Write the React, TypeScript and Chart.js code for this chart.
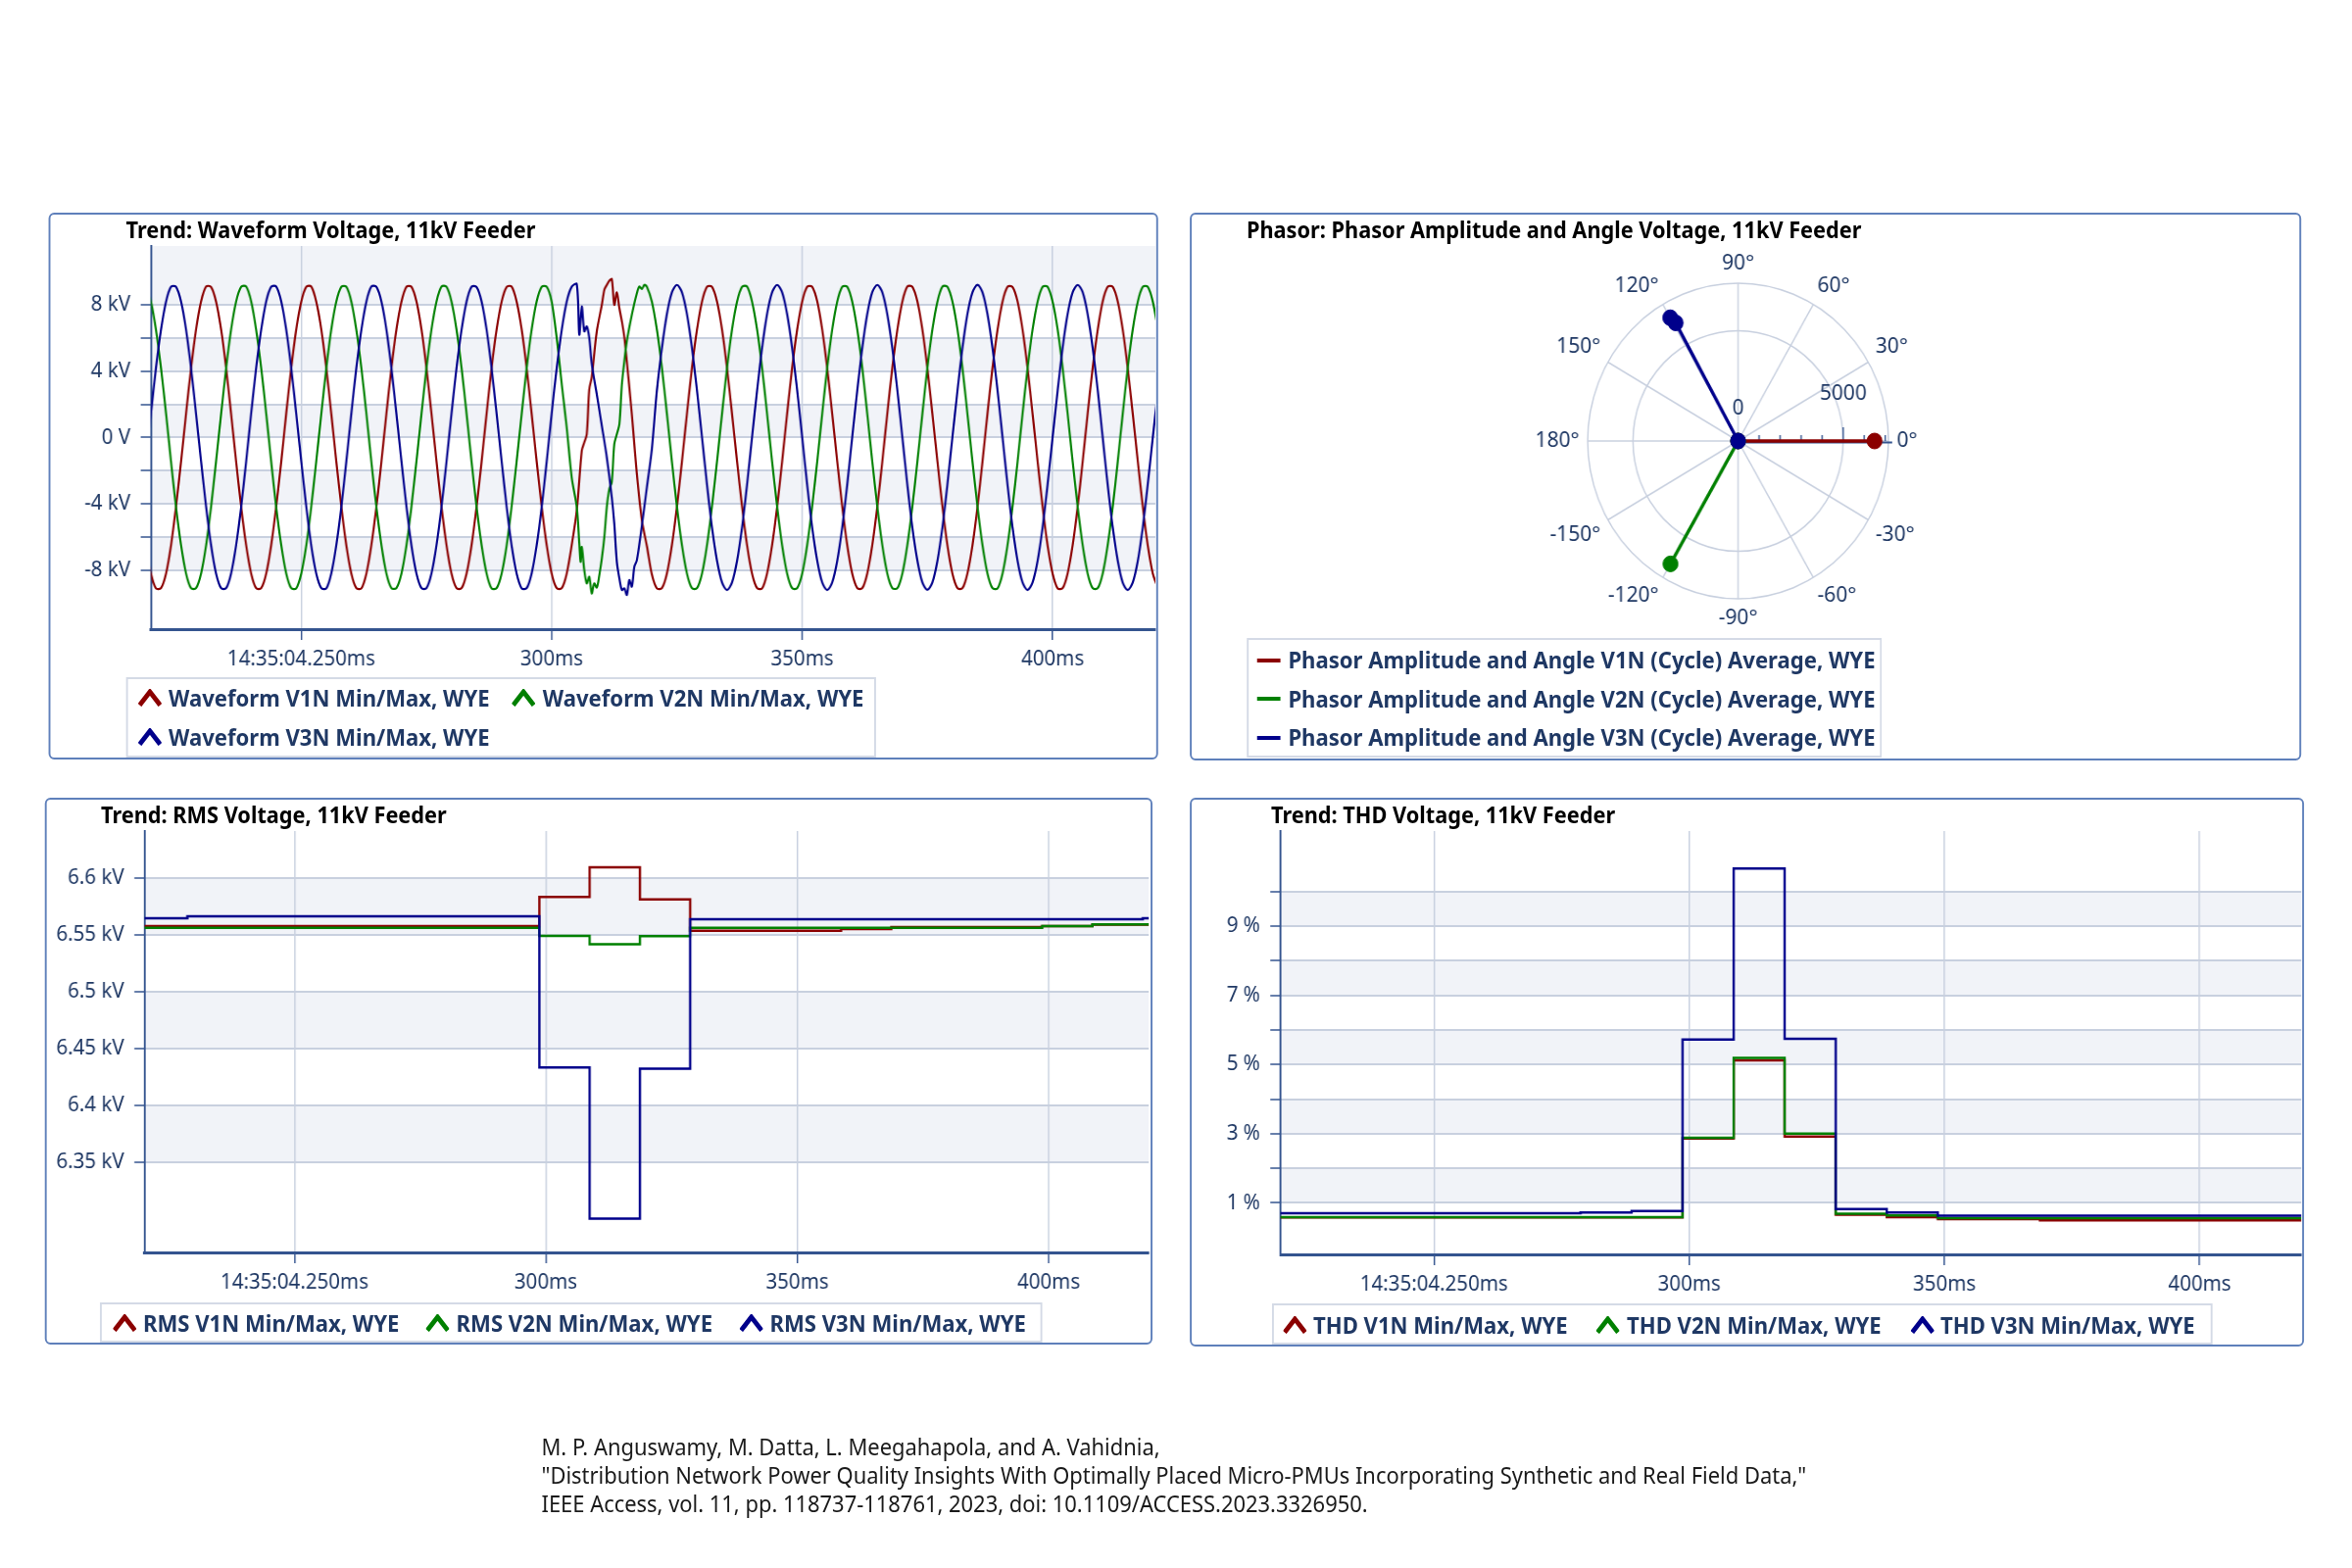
import React, { useEffect, useRef } from 'react';
import { Chart, registerables } from 'chart.js';

Chart.register(...registerables);

// The reference is horizontally compressed; we lay out in uncompressed units and squeeze.
const K = 0.953;
const FONT = '"Noto Sans", "Open Sans", sans-serif';
const TEXT = '#1f3864';
const AXIS = '#34548f';
const GRID = '#c8d0df';
const BAND = '#f1f3f8';
const PANEL_BORDER = '#5f80bb';
const LEGEND_BORDER = '#d4dae6';
const TITLE_SIZE = 22.8;
const LEGEND_SIZE = 23.2;
const TICK_SIZE = 21.5;
const CITE_SIZE = 23;

Chart.defaults.font.family = FONT;

// ---------------- series ----------------
const seriesNames = ['V1N', 'V2N', 'V3N'];
const seriesColors = ['#8b0000', '#008000', '#00008b'];

// ---------------- waveform (kV), one sample per ms from 219 ms ----------------
const waveStartMs = 219;
const waveStepMs = 1;
const waveV1 = [
  -6.50, -8.21, -9.10, -9.08, -8.20, -6.51, -4.18, -1.45, 1.44, 4.17, 6.50, 8.21, 9.10, 9.08, 8.20, 6.50, 4.18, 1.43, -1.44, -4.19,
  -6.50, -8.20, -9.09, -9.09, -8.21, -6.50, -4.18, -1.44, 1.45, 4.18, 6.51, 8.20, 9.09, 9.10, 8.19, 6.50, 4.17, 1.44, -1.44, -4.18,
  -6.51, -8.20, -9.08, -9.10, -8.20, -6.50, -4.19, -1.44, 1.44, 4.18, 6.50, 8.19, 9.09, 9.09, 8.21, 6.50, 4.18, 1.45, -1.43, -4.18,
  -6.50, -8.21, -9.09, -9.09, -8.20, -6.51, -4.18, -1.44, 1.44, 4.19, 6.50, 8.20, 9.08, 9.10, 8.20, 6.50, 4.18, 1.44, -1.44, -4.18,
  -6.50, -8.20, -9.09, -9.09, -8.20, -6.50, -4.40, -0.80, 0.20, 3.64, 6.40, 8.00, 9.20, 9.55, 8.75, 7.00, 4.60, 1.40, -2.20, -5.00,
  -6.55, -8.25, -9.10, -9.08, -8.20, -6.50, -4.18, -1.44, 1.44, 4.18, 6.50, 8.20, 9.09, 9.09, 8.20, 6.50, 4.18, 1.44, -1.44, -4.18,
  -6.50, -8.20, -9.09, -9.10, -8.20, -6.50, -4.18, -1.44, 1.44, 4.18, 6.51, 8.20, 9.09, 9.09, 8.21, 6.50, 4.18, 1.44, -1.44, -4.18,
  -6.50, -8.21, -9.09, -9.09, -8.20, -6.50, -4.17, -1.44, 1.44, 4.18, 6.50, 8.20, 9.10, 9.09, 8.20, 6.50, 4.18, 1.44, -1.45, -4.18,
  -6.50, -8.20, -9.09, -9.09, -8.20, -6.51, -4.18, -1.44, 1.44, 4.18, 6.50, 8.20, 9.09, 9.08, 8.20, 6.50, 4.18, 1.44, -1.44, -4.18,
  -6.50, -8.20, -9.10, -9.09, -8.20, -6.50, -4.18, -1.44, 1.44, 4.18, 6.50, 8.21, 9.09, 9.09, 8.20, 6.50, 4.19, 1.44, -1.44, -4.18,
  -6.50, -8.20, -9.09,
];
const waveV2 = [
  9.09, 8.20, 6.50, 4.18, 1.44, -1.44, -4.18, -6.50, -8.20, -9.09, -9.09, -8.20, -6.50, -4.18, -1.44, 1.44, 4.18, 6.50, 8.20, 9.09,
  9.10, 8.21, 6.50, 4.18, 1.44, -1.44, -4.19, -6.50, -8.20, -9.09, -9.10, -8.20, -6.50, -4.18, -1.44, 1.44, 4.18, 6.51, 8.20, 9.09,
  9.09, 8.20, 6.50, 4.17, 1.44, -1.45, -4.18, -6.50, -8.21, -9.09, -9.08, -8.20, -6.50, -4.18, -1.44, 1.45, 4.18, 6.50, 8.20, 9.10,
  9.09, 8.20, 6.51, 4.18, 1.44, -1.44, -4.18, -6.50, -8.20, -9.10, -9.09, -8.20, -6.51, -4.18, -1.44, 1.44, 4.18, 6.50, 8.21, 9.09,
  9.09, 8.20, 6.00, 3.20, 0.60, -2.40, -4.20, -6.60, -8.80, -9.40, -9.05, -7.30, -4.20, -2.70, 0.20, 3.20, 5.80, 7.40, 8.70, 8.95,
  9.09, 8.20, 6.50, 4.18, 1.44, -1.44, -4.18, -6.50, -8.20, -9.09, -9.09, -8.20, -6.50, -4.18, -1.44, 1.44, 4.18, 6.50, 8.20, 9.09,
  9.10, 8.20, 6.50, 4.18, 1.44, -1.44, -4.18, -6.51, -8.20, -9.09, -9.09, -8.21, -6.50, -4.18, -1.44, 1.44, 4.18, 6.50, 8.20, 9.09,
  9.09, 8.20, 6.50, 4.19, 1.44, -1.44, -4.18, -6.50, -8.20, -9.08, -9.09, -8.20, -6.50, -4.18, -1.43, 1.44, 4.18, 6.50, 8.20, 9.10,
  9.09, 8.21, 6.50, 4.18, 1.44, -1.44, -4.18, -6.50, -8.20, -9.09, -9.10, -8.20, -6.50, -4.18, -1.44, 1.44, 4.17, 6.50, 8.20, 9.09,
  9.09, 8.20, 6.50, 4.18, 1.45, -1.44, -4.18, -6.50, -8.20, -9.09, -9.09, -8.20, -6.50, -4.18, -1.44, 1.44, 4.18, 6.51, 8.20, 9.09,
  9.09, 8.20, 6.50,
];
const waveV3 = [
  -1.44, 1.44, 4.18, 6.50, 8.20, 9.09, 9.09, 8.20, 6.50, 4.18, 1.44, -1.44, -4.18, -6.50, -8.20, -9.09, -9.09, -8.20, -6.50, -4.18,
  -1.44, 1.45, 4.18, 6.50, 8.21, 9.09, 9.10, 8.20, 6.50, 4.18, 1.44, -1.44, -4.18, -6.51, -8.20, -9.09, -9.10, -8.20, -6.50, -4.18,
  -1.43, 1.44, 4.18, 6.50, 8.20, 9.10, 9.09, 8.20, 6.51, 4.18, 1.44, -1.44, -4.17, -6.50, -8.20, -9.09, -9.09, -8.21, -6.50, -4.18,
  -1.44, 1.44, 4.19, 6.50, 8.20, 9.09, 9.08, 8.20, 6.50, 4.18, 1.45, -1.44, -4.18, -6.50, -8.20, -9.10, -9.09, -8.20, -6.50, -4.19,
  -1.44, 1.44, 4.18, 6.50, 8.20, 9.09, 9.25, 7.90, 6.70, 4.45, 2.60, 0.70, -1.20, -3.60, -7.50, -9.20, -9.50, -9.00, -7.40, -5.30,
  -3.00, -0.70, 2.84, 5.41, 7.44, 8.75, 9.20, 8.75, 7.44, 5.41, 2.84, 0.00, -2.84, -5.41, -7.44, -8.75, -9.20, -8.75, -7.44, -5.41,
  -2.84, 0.00, 2.84, 5.41, 7.44, 8.75, 9.20, 8.75, 7.44, 5.41, 2.84, 0.00, -2.84, -5.41, -7.44, -8.75, -9.20, -8.75, -7.44, -5.41,
  -2.84, 0.01, 2.85, 5.41, 7.44, 8.76, 9.20, 8.75, 7.43, 5.41, 2.84, 0.00, -2.84, -5.42, -7.44, -8.75, -9.19, -8.75, -7.44, -5.41,
  -2.84, 0.00, 2.84, 5.40, 7.44, 8.75, 9.21, 8.75, 7.44, 5.41, 2.83, 0.00, -2.84, -5.41, -7.45, -8.75, -9.20, -8.74, -7.44, -5.41,
  -2.85, 0.00, 2.84, 5.41, 7.44, 8.75, 9.20, 8.76, 7.44, 5.41, 2.84, -0.01, -2.84, -5.41, -7.44, -8.76, -9.20, -8.75, -7.44, -5.40,
  -2.84, 0.00, 2.84,
];
// extra samples (ms, kV) read inside the disturbance
const waveV1Extra = [[306.5, -0.30], [307.5, 2.90], [310.5, 8.90], [311.5, 9.45], [312.5, 8.00], [313.5, 7.80], [314.5, 6.05]];
const waveV2Extra = [[305.5, -6.40], [305.75, -7.50], [306.5, -8.00], [307.5, -8.40], [308.5, -8.80], [309.5, -8.30], [310.5, -6.00],
  [311.5, -3.10], [312.5, -0.40], [313.5, 0.80], [314.5, 4.60], [317.5, 9.10], [318.5, 9.20]];
const waveV3Extra = [[305.5, 6.20], [306.5, 6.40], [307.5, 6.00], [312.5, -5.20], [313.5, -8.50], [314.5, -9.10], [315.5, -8.60], [316.5, -7.80]];
const waveYTicks = [-8, -6, -4, -2, 0, 2, 4, 6, 8];
const waveYTickLabels = ['-8 kV', '', '-4 kV', '', '0 V', '', '4 kV', '', '8 kV'];

const timeTicks = [250, 300, 350, 400];
const timeTickLabels = ['14:35:04.250ms', '300ms', '350ms', '400ms'];

// ---------------- half-cycle RMS / THD steps ----------------
const stepTimesMs = [218.7, 228.7, 238.7, 248.7, 258.7, 268.7, 278.7, 288.7, 298.7, 308.7, 318.7,
  328.7, 338.7, 348.7, 358.7, 368.7, 378.7, 388.7, 398.7, 408.7, 418.7, 420.5];
const rmsV1 = [6.5578, 6.5578, 6.5578, 6.5578, 6.5578, 6.5578, 6.5578, 6.5578, 6.5834, 6.6095, 6.5812,
  6.5538, 6.5538, 6.5538, 6.5552, 6.5569, 6.5569, 6.5569, 6.5578, 6.5590, 6.5590, 6.5590];
const rmsV2 = [6.5562, 6.5562, 6.5562, 6.5562, 6.5562, 6.5562, 6.5562, 6.5562, 6.5491, 6.5419, 6.5490,
  6.5562, 6.5562, 6.5562, 6.5562, 6.5562, 6.5562, 6.5562, 6.5578, 6.5594, 6.5594, 6.5594];
const rmsV3 = [6.5647, 6.5663, 6.5663, 6.5663, 6.5663, 6.5663, 6.5663, 6.5663, 6.4335, 6.3007, 6.4325,
  6.5638, 6.5638, 6.5638, 6.5638, 6.5638, 6.5638, 6.5638, 6.5638, 6.5638, 6.5647, 6.5647];
const rmsYTicks = [6.35, 6.4, 6.45, 6.5, 6.55, 6.6];
const rmsYTickLabels = ['6.35 kV', '6.4 kV', '6.45 kV', '6.5 kV', '6.55 kV', '6.6 kV'];

const thdV1 = [0.58, 0.58, 0.58, 0.58, 0.58, 0.58, 0.58, 0.58, 2.86, 5.12, 2.92,
  0.66, 0.59, 0.53, 0.53, 0.50, 0.50, 0.50, 0.50, 0.50, 0.50, 0.50];
const thdV2 = [0.59, 0.59, 0.59, 0.59, 0.59, 0.59, 0.59, 0.59, 2.88, 5.19, 3.00,
  0.69, 0.64, 0.56, 0.56, 0.56, 0.56, 0.56, 0.56, 0.56, 0.56, 0.56];
const thdV3 = [0.70, 0.70, 0.70, 0.70, 0.70, 0.70, 0.72, 0.765, 5.72, 10.66, 5.74,
  0.82, 0.72, 0.63, 0.63, 0.63, 0.63, 0.63, 0.63, 0.63, 0.63, 0.63];
const thdYTicks = [1, 2, 3, 4, 5, 6, 7, 8, 9, 10];
const thdYTickLabels = ['1 %', '', '3 %', '', '5 %', '', '7 %', '', '9 %', ''];

// ---------------- phasor ----------------
const phasorV1Angles = [0];
const phasorV1Mags = [6490];
const phasorV2Angles = [-120];
const phasorV2Mags = [6430];
const phasorV3Angles = [120, 119];
const phasorV3Mags = [6450, 6120];
const phasorAngleTicks = [90, 60, 30, 0, -30, -60, -90, -120, -150, 180, 150, 120];
const phasorRadialGrid = [0, 5000, 7150];
const phasorRadialMax = 7150;
const phasorRadialLabelValues = [0, 5000];
const phasorRadialLabels = ['0', '5000'];
const phasorRadialMinor = [0, 1000, 2000, 3000, 4000, 6000, 7000];

const citationLines = [
  'M. P. Anguswamy, M. Datta, L. Meegahapola, and A. Vahidnia,',
  '"Distribution Network Power Quality Insights With Optimally Placed Micro-PMUs Incorporating Synthetic and Real Field Data,"',
  'IEEE Access, vol. 11, pp. 118737-118761, 2023, doi: 10.1109/ACCESS.2023.3326950.',
];

// ---------------- helpers ----------------
function buildWave(values: number[], extra: number[][]) {
  const pts = values.map((v, i) => ({ x: waveStartMs + i * waveStepMs, y: v }));
  extra.forEach(([x, y]) => pts.push({ x, y }));
  return pts.sort((a, b) => a.x - b.x);
}
function buildSteps(values: number[]) {
  return values.map((v, i) => ({ x: stepTimesMs[i], y: v }));
}

type Rect = { l: number; t: number; r: number; b: number };
const PAD_TOP = 32;
const PAD_RIGHT = 4;
const X_AXIS_H = 50;

type TrendProps = {
  plot: Rect;
  canvasLeft: number;
  series: { label: string; pts: { x: number; y: number }[]; color: string }[];
  xMin: number; xMax: number;
  yMin: number; yMax: number;
  yTicks: number[]; yTickLabels: string[];
  stepped?: boolean; tension?: number; lineWidth: number;
};

function TrendChart(p: TrendProps) {
  const ref = useRef<HTMLCanvasElement>(null);
  const left = p.canvasLeft / K;
  const top = p.plot.t - PAD_TOP;
  const width = Math.round((p.plot.r - p.canvasLeft) / K + PAD_RIGHT);
  const height = Math.round(p.plot.b + X_AXIS_H - top);
  useEffect(() => {
    const yAxisW = (p.plot.l - p.canvasLeft) / K;
    const bands = {
      id: 'bands',
      beforeDraw(chart: any) {
        const { ctx, chartArea: a } = chart;
        const y = chart.scales.y;
        ctx.save();
        ctx.fillStyle = BAND;
        for (let i = 0; i < p.yTicks.length; i += 2) {
          const lo = p.yTicks[i];
          const hi = i + 1 < p.yTicks.length ? p.yTicks[i + 1] : p.yMax;
          const t = y.getPixelForValue(hi);
          const b = y.getPixelForValue(lo);
          ctx.fillRect(a.left, t, a.right - a.left, b - t);
        }
        ctx.restore();
      },
    };
    const chart = new Chart(ref.current as HTMLCanvasElement, {
      type: 'line',
      data: {
        datasets: p.series.map((s, i) => ({
          label: s.label,
          data: s.pts,
          borderColor: s.color,
          backgroundColor: s.color,
          borderWidth: p.lineWidth,
          pointRadius: 0,
          pointHoverRadius: 0,
          fill: false,
          stepped: p.stepped ? 'before' : false,
          tension: p.tension ?? 0,
          order: p.series.length - 1 - i,
        })),
      },
      options: {
        animation: false,
        responsive: false,
        maintainAspectRatio: false,
        devicePixelRatio: 1,
        events: [],
        layout: { padding: { left: 0, top: PAD_TOP, right: PAD_RIGHT, bottom: 0 } },
        plugins: { legend: { display: false }, tooltip: { enabled: false }, title: { display: false } },
        scales: {
          x: {
            type: 'linear', min: p.xMin, max: p.xMax,
            afterBuildTicks: (s: any) => { s.ticks = timeTicks.map((v) => ({ value: v })); },
            afterFit: (s: any) => { s.height = X_AXIS_H; },
            ticks: {
              autoSkip: false, maxRotation: 0, minRotation: 0, padding: 7, color: TEXT,
              font: { family: FONT, size: TICK_SIZE },
              callback: (_v: any, i: number) => timeTickLabels[i],
            },
            grid: { color: GRID, lineWidth: 1.5, tickLength: 11, tickColor: AXIS, tickWidth: 1.5 },
            border: { color: AXIS, width: 3 },
          },
          y: {
            type: 'linear', min: p.yMin, max: p.yMax,
            afterBuildTicks: (s: any) => { s.ticks = p.yTicks.map((v) => ({ value: v })); },
            afterFit: (s: any) => { s.width = yAxisW; },
            ticks: {
              autoSkip: false, padding: 11, color: TEXT,
              font: { family: FONT, size: TICK_SIZE },
              callback: (_v: any, i: number) => p.yTickLabels[i],
            },
            grid: { color: GRID, lineWidth: 2, tickLength: 11, tickColor: AXIS, tickWidth: 1.5 },
            border: { color: AXIS, width: 2 },
          },
        },
      } as any,
      plugins: [bands],
    });
    return () => chart.destroy();
  }, []);
  return (
    <canvas ref={ref} width={width} height={height}
      style={{ position: 'absolute', left, top, width, height }} />
  );
}

// ---------------- phasor ----------------
const PHASOR_N = 360;
const PHASOR_R = 161;
const angleToIndex = (deg: number) => (((90 - deg) % 360) + 360) % 360;
function buildPhasor(angles: number[], mags: number[]) {
  const d: (number | null)[] = new Array(PHASOR_N).fill(null);
  angles.forEach((a, k) => { d[angleToIndex(a)] = mags[k]; });
  d[(angleToIndex(angles[angles.length - 1]) + 1) % PHASOR_N] = 0; // origin
  return d;
}

function PhasorChart({ cx, cy }: { cx: number; cy: number }) {
  const ref = useRef<HTMLCanvasElement>(null);
  const size = 440;
  useEffect(() => {
    const labels = Array.from({ length: PHASOR_N }, (_, i) => {
      let a = 90 - i;
      if (a <= -180) a += 360;
      return `${a}°`;
    });
    const mk = (angles: number[], mags: number[], i: number) => ({
      label: seriesNames[i],
      data: buildPhasor(angles, mags),
      borderColor: seriesColors[i],
      backgroundColor: seriesColors[i],
      pointBackgroundColor: seriesColors[i],
      pointBorderColor: seriesColors[i],
      borderWidth: 3.5,
      pointRadius: 8,
      pointBorderWidth: 1,
      fill: false,
      tension: 0,
      order: 2 - i,
    });
    const i0 = angleToIndex(0);
    const decor = {
      id: 'phasorDecor',
      beforeDatasetsDraw(chart: any) {
        const s = chart.scales.r;
        const ctx = chart.ctx;
        const o = s.getPointPositionForValue(i0, 0);
        const e = s.getPointPositionForValue(i0, phasorRadialMax);
        ctx.save();
        ctx.strokeStyle = AXIS;
        ctx.lineWidth = 2;
        ctx.beginPath();
        ctx.moveTo(o.x, o.y + 1.5);
        ctx.lineTo(e.x + 4, e.y + 1.5);
        ctx.stroke();
        ctx.lineWidth = 1.5;
        phasorRadialMinor.forEach((v) => {
          const q = s.getPointPositionForValue(i0, v);
          ctx.beginPath(); ctx.moveTo(q.x, q.y); ctx.lineTo(q.x, q.y - 6); ctx.stroke();
        });
        const m = s.getPointPositionForValue(i0, phasorRadialLabelValues[1]);
        ctx.beginPath(); ctx.moveTo(m.x, m.y); ctx.lineTo(m.x, m.y - 14); ctx.stroke();
        ctx.restore();
      },
      afterDraw(chart: any) {
        const s = chart.scales.r;
        const ctx = chart.ctx;
        ctx.save();
        ctx.fillStyle = TEXT;
        ctx.font = `22px ${FONT}`;
        phasorAngleTicks.forEach((a) => {
          const idx = angleToIndex(a);
          const p = s.getPointPosition(idx, s.drawingArea + 9);
          ctx.textAlign = idx === 0 || idx === 180 ? 'center' : idx < 180 ? 'left' : 'right';
          ctx.textBaseline = idx === 90 || idx === 270 ? 'middle' : idx > 270 || idx < 90 ? 'bottom' : 'top';
          ctx.fillText(`${a}°`, p.x, p.y);
        });
        ctx.textAlign = 'center';
        ctx.textBaseline = 'middle';
        const lift = [33, 48];
        phasorRadialLabelValues.forEach((v, k) => {
          const q = s.getPointPositionForValue(i0, v);
          ctx.fillText(phasorRadialLabels[k], q.x, q.y - lift[k]);
        });
        ctx.restore();
      },
    };
    const chart = new Chart(ref.current as HTMLCanvasElement, {
      type: 'radar',
      data: {
        labels,
        datasets: [
          mk(phasorV1Angles, phasorV1Mags, 0),
          mk(phasorV2Angles, phasorV2Mags, 1),
          mk(phasorV3Angles, phasorV3Mags, 2),
        ],
      },
      options: {
        animation: false,
        responsive: false,
        maintainAspectRatio: false,
        devicePixelRatio: 1,
        events: [],
        layout: { padding: (size - 2 * PHASOR_R) / 2 },
        plugins: { legend: { display: false }, tooltip: { enabled: false } },
        scales: {
          r: {
            min: 0,
            max: phasorRadialMax,
            afterBuildTicks: (s: any) => { s.ticks = phasorRadialGrid.map((v) => ({ value: v })); },
            ticks: { display: false },
            pointLabels: { display: false },
            grid: { circular: true, color: GRID, lineWidth: 1.5 },
            angleLines: {
              display: true,
              color: GRID,
              lineWidth: (c: any) => (c.index % 30 === 0 ? 1.5 : 0),
            },
          },
        },
      } as any,
      plugins: [decor],
    });
    return () => chart.destroy();
  }, []);
  return (
    <canvas ref={ref} width={size} height={size}
      style={{ position: 'absolute', left: cx / K - size / 2, top: cy - size / 2, width: size, height: size }} />
  );
}

// ---------------- html pieces ----------------
function Panel({ r }: { r: Rect }) {
  return (
    <div style={{
      position: 'absolute', left: r.l / K, top: r.t, width: (r.r - r.l) / K, height: r.b - r.t,
      border: `2px solid ${PANEL_BORDER}`, borderRadius: 6, boxSizing: 'border-box',
    }} />
  );
}

function Title({ x, y, text }: { x: number; y: number; text: string }) {
  return (
    <div style={{
      position: 'absolute', left: x / K, top: y - 15.7, lineHeight: '30px', fontSize: TITLE_SIZE,
      fontWeight: 700, color: '#000', whiteSpace: 'nowrap',
    }}>{text}</div>
  );
}

type LegendItem = { sx: number; tx: number; y: number; text: string; color: string };
function Legend({ box, items, kind }: { box: Rect; items: LegendItem[]; kind: 'chevron' | 'line' }) {
  return (
    <>
      <div style={{
        position: 'absolute', left: box.l / K, top: box.t, width: (box.r - box.l) / K, height: box.b - box.t,
        border: `2px solid ${LEGEND_BORDER}`, boxSizing: 'border-box',
      }} />
      {items.map((it, k) => (
        <React.Fragment key={k}>
          {kind === 'chevron' ? (
            <svg width={25} height={18} viewBox="0 0 25 18"
              style={{ position: 'absolute', left: it.sx / K, top: it.y - 10 }}>
              <polyline points="1.5,16.5 12.5,3 23.5,16.5" fill="none" stroke={it.color}
                strokeWidth={5} strokeLinejoin="miter" />
            </svg>
          ) : (
            <div style={{ position: 'absolute', left: it.sx / K, top: it.y - 2, width: 25, height: 4, background: it.color }} />
          )}
          <div style={{
            position: 'absolute', left: it.tx / K, top: it.y - 15.7, lineHeight: '30px',
            fontSize: LEGEND_SIZE, fontWeight: 700, color: TEXT, whiteSpace: 'nowrap',
          }}>{it.text}</div>
        </React.Fragment>
      ))}
    </>
  );
}

export default function App() {
  const waveSeries = [waveV1, waveV2, waveV3].map((v, i) => ({
    label: seriesNames[i], color: seriesColors[i],
    pts: buildWave(v, [waveV1Extra, waveV2Extra, waveV3Extra][i]),
  }));
  const rmsSeries = [rmsV1, rmsV2, rmsV3].map((v, i) => ({ label: seriesNames[i], color: seriesColors[i], pts: buildSteps(v) }));
  const thdSeries = [thdV1, thdV2, thdV3].map((v, i) => ({ label: seriesNames[i], color: seriesColors[i], pts: buildSteps(v) }));

  const wfLegend: LegendItem[] = [
    { sx: 140.7, tx: 172, y: 713 },
    { sx: 522.6, tx: 553.8, y: 713 },
    { sx: 140.7, tx: 172, y: 752.5 },
  ].map((p, i) => ({ ...p, text: `Waveform ${seriesNames[i]} Min/Max, WYE`, color: seriesColors[i] }));
  const phLegend: LegendItem[] = [674, 713.4, 752.6].map((y, i) => ({
    sx: 1283, tx: 1314.4, y, text: `Phasor Amplitude and Angle ${seriesNames[i]} (Cycle) Average, WYE`, color: seriesColors[i],
  }));
  const rmsLegend: LegendItem[] = [[115.4, 146], [435, 465.6], [754.5, 785.5]].map(([sx, tx], i) => ({
    sx, tx, y: 1351, text: `RMS ${seriesNames[i]} Min/Max, WYE`, color: seriesColors[i],
  }));
  const thdLegend: LegendItem[] = [[1309.5, 1340], [1629, 1660], [1949.5, 1980]].map(([sx, tx], i) => ({
    sx, tx, y: 1352.5, text: `THD ${seriesNames[i]} Min/Max, WYE`, color: seriesColors[i],
  }));

  return (
    <div style={{ position: 'fixed', left: 0, top: 0, width: 2400, height: 1600, overflow: 'hidden', background: '#fff' }}>
      <div style={{
        position: 'absolute', left: 0, top: 0, width: 2400 / K, height: 1600,
        transform: `scaleX(${K})`, transformOrigin: '0 0', fontFamily: FONT,
      }}>
        <Panel r={{ l: 50, t: 217, r: 1182, b: 775 }} />
        <Panel r={{ l: 1214, t: 217, r: 2348, b: 776 }} />
        <Panel r={{ l: 46, t: 814, r: 1176, b: 1372 }} />
        <Panel r={{ l: 1214, t: 814, r: 2351, b: 1374 }} />

        <Title x={128.5} y={235.5} text="Trend: Waveform Voltage, 11kV Feeder" />
        <Title x={1272} y={236} text="Phasor: Phasor Amplitude and Angle Voltage, 11kV Feeder" />
        <Title x={103} y={832.5} text="Trend: RMS Voltage, 11kV Feeder" />
        <Title x={1297} y={832.5} text="Trend: THD Voltage, 11kV Feeder" />

        <TrendChart plot={{ l: 154, t: 251, r: 1179, b: 642 }} canvasLeft={60}
          series={waveSeries} xMin={220} xMax={420.5} yMin={-11.56} yMax={11.55}
          yTicks={waveYTicks} yTickLabels={waveYTickLabels} tension={0.3} lineWidth={2.2} />
        <TrendChart plot={{ l: 148, t: 848, r: 1173, b: 1278 }} canvasLeft={50}
          series={rmsSeries} xMin={220.2} xMax={419.9} yMin={6.2711} yMax={6.6413}
          yTicks={rmsYTicks} yTickLabels={rmsYTickLabels} stepped lineWidth={2.5} />
        <TrendChart plot={{ l: 1307, t: 848, r: 2348, b: 1280 }} canvasLeft={1222}
          series={thdSeries} xMin={219.95} xMax={419.9} yMin={-0.487} yMax={11.745}
          yTicks={thdYTicks} yTickLabels={thdYTickLabels} stepped lineWidth={2.5} />

        <PhasorChart cx={1774} cy={450} />

        <Legend box={{ l: 128.5, t: 691, r: 893.5, b: 773 }} items={wfLegend} kind="chevron" />
        <Legend box={{ l: 1272, t: 651, r: 1920, b: 773 }} items={phLegend} kind="line" />
        <Legend box={{ l: 102.4, t: 1329, r: 1064, b: 1370 }} items={rmsLegend} kind="chevron" />
        <Legend box={{ l: 1298, t: 1330, r: 2258, b: 1372 }} items={thdLegend} kind="chevron" />

        <div style={{
          position: 'absolute', left: 552.5 / K, top: 1462, fontSize: CITE_SIZE, lineHeight: '29px',
          color: '#1a1a1a', whiteSpace: 'nowrap',
        }}>
          {citationLines.map((l, i) => <div key={i}>{l}</div>)}
        </div>
      </div>
    </div>
  );
}
